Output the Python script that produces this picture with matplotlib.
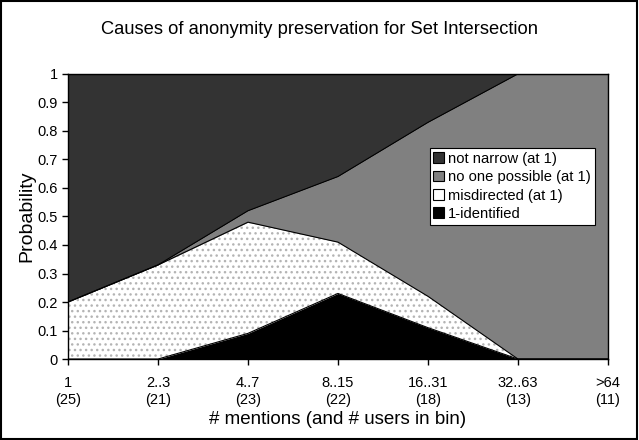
import numpy as np
import matplotlib
matplotlib.use('Agg')
import matplotlib.pyplot as plt
from matplotlib.patches import Rectangle, Patch

plt.rcParams['font.family'] = ['Liberation Sans', 'DejaVu Sans']
plt.rcParams['hatch.color'] = '#b4b4b4'
plt.rcParams['hatch.linewidth'] = 1.0

# data (share of users per bin)
bins = ['1', '2..3', '4..7', '8..15', '16..31', '32..63', '>64']
users = [25, 21, 23, 22, 18, 13, 11]
identified = [0.0, 0.0, 0.09, 0.23, 0.11, 0.0, 0.0]
misdirected = [0.2, 0.33, 0.39, 0.18, 0.11, 0.0, 0.0]
no_one = [0.0, 0.0, 0.04, 0.23, 0.61, 1.0, 1.0]
not_narrow = [0.8, 0.67, 0.48, 0.36, 0.17, 0.0, 0.0]

x = np.arange(len(bins))
c1 = np.array(identified)
c2 = c1 + np.array(misdirected)
c3 = c2 + np.array(no_one)
c4 = c3 + np.array(not_narrow)

fig = plt.figure(figsize=(6.39, 4.40), dpi=100)
ax = fig.add_axes([0.1064, 0.184, 0.845, 0.648])

ax.fill_between(x, 0, c1, color='black', lw=0)
ax.fill_between(x, c1, c2, facecolor='white', hatch='...', lw=0)
ax.fill_between(x, c2, c3, color='#808080', lw=0)
ax.fill_between(x, c3, c4, color='#333333', lw=0)
for c in (c1, c2, c3, c4):
    ax.plot(x, c, color='black', lw=0.8)

ax.set_xlim(0, len(bins) - 1)
ax.set_ylim(0, 1)
ax.set_xticks(x)
ax.set_xticklabels([b + '\n(' + str(u) + ')' for b, u in zip(bins, users)], fontsize=10.5, linespacing=1.2)
ax.set_yticks(np.arange(0, 1.01, 0.1))
ax.set_yticklabels(['0', '0.1', '0.2', '0.3', '0.4', '0.5', '0.6', '0.7', '0.8', '0.9', '1'], fontsize=10.5)
ax.tick_params(direction='out', length=4.5, width=1, pad=8)
ax.tick_params(axis='y', pad=3)
for s in ax.spines.values():
    s.set_linewidth(1)

ax.set_xlabel('# mentions (and # users in bin)', fontsize=13.5, labelpad=3)
ax.set_ylabel('Probability', fontsize=14, labelpad=1)
fig.text(0.5, 0.932, 'Causes of anonymity preservation for Set Intersection', ha='center', va='center', fontsize=13.2)

handles = [Patch(facecolor='#333333', edgecolor='black', lw=0.8, label='not narrow (at 1)'),
           Patch(facecolor='#808080', edgecolor='black', lw=0.8, label='no one possible (at 1)'),
           Patch(facecolor='white', edgecolor='black', lw=0.8, label='misdirected (at 1)'),
           Patch(facecolor='black', edgecolor='black', lw=0.8, label='1-identified')]
leg = ax.legend(handles=handles, loc='upper left', bbox_to_anchor=(0.670, 0.740), borderaxespad=0,
                fontsize=10.6, fancybox=False, framealpha=1, edgecolor='black', handlelength=0.75,
                handleheight=0.75, handletextpad=0.25, borderpad=0.25, labelspacing=0.3)
leg.get_frame().set_linewidth(0.8)

fig.patches.append(Rectangle((0.002, 0.003), 0.995, 0.994, transform=fig.transFigure,
                             fill=False, edgecolor='black', lw=1.5))

fig.savefig('out.png', dpi=100)
